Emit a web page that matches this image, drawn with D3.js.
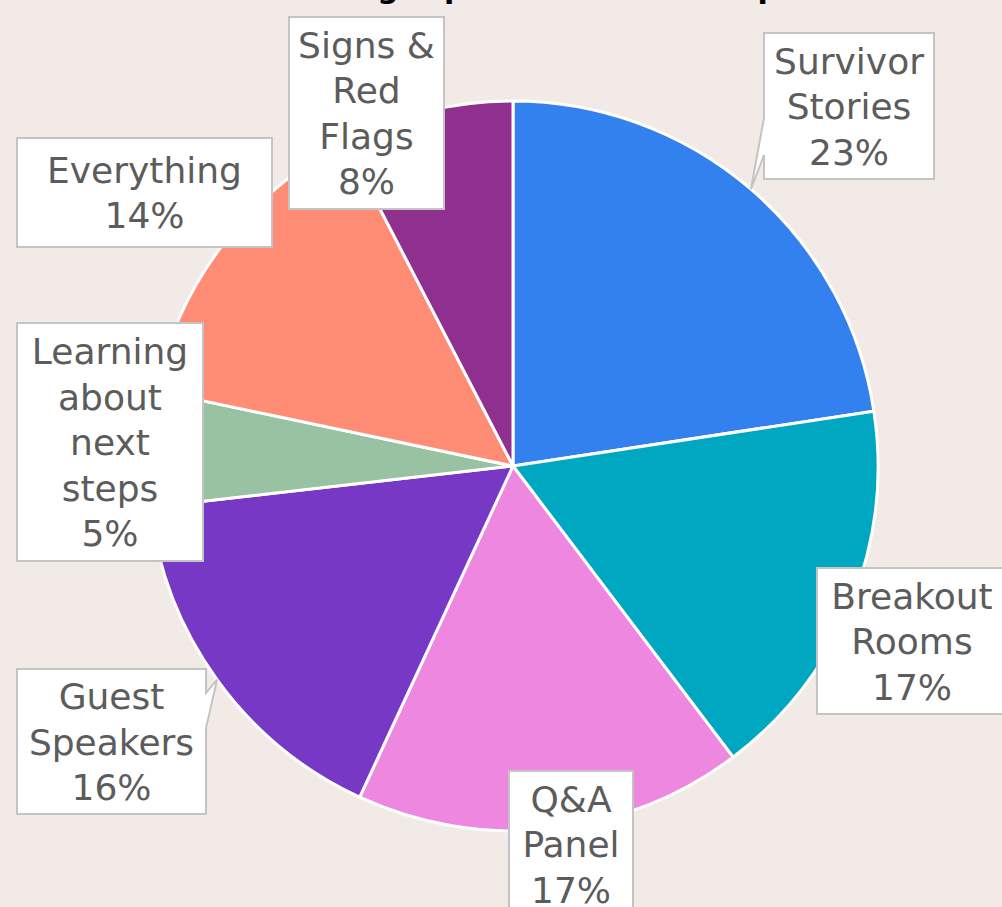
<!DOCTYPE html>
<html>
<head>
<meta charset="utf-8">
<script src="https://cdn.jsdelivr.net/npm/d3@7"></script>
<style>
  html, body { margin: 0; padding: 0; background: #F2EAE7; overflow: hidden; }
  svg { display: block; }
</style>
</head>
<body>
<svg id="chart" width="1002" height="907"></svg>
<script>
// ---- data ----
const titleText = "Most interesting topic of the workshop";
const categories = ["Survivor Stories", "Breakout Rooms", "Q&A Panel", "Guest Speakers",
                    "Learning about next steps", "Everything", "Signs & Red Flags"];
const values = [22.6, 17.1, 17.2, 16.3, 5.1, 14.1, 7.6];
const labelLines = [["Survivor", "Stories"], ["Breakout", "Rooms"], ["Q&A", "Panel"],
                    ["Guest", "Speakers"], ["Learning", "about", "next", "steps"],
                    ["Everything"], ["Signs &", "Red", "Flags"]];
const colors = ["#3381EE", "#00A7C1", "#EE87E0", "#7638C5", "#98C2A2", "#FF8C75", "#8F2F8E"];

// ---- layout (label boxes) ----
const boxLayout = {
  "Survivor Stories": {x: 764, y: 33, w: 170, h: 146, pointer: {side: "left", b1: 118, b2: 155}},
  "Breakout Rooms": {x: 817, y: 568, w: 190, h: 146, textX: 912},
  "Q&A Panel": {x: 509, y: 771, w: 124, h: 146},
  "Guest Speakers": {x: 17, y: 669, w: 189, h: 145, pointer: {side: "right", b1: 693, b2: 728}},
  "Learning about next steps": {x: 17, y: 323, w: 186, h: 238},
  "Everything": {x: 17, y: 138, w: 255, h: 109},
  "Signs & Red Flags": {x: 289, y: 17, w: 155, h: 192}
};

const W = 1002, H = 907;
const cx = 513, cy = 466, R = 365;
const fontSize = 36, lineH = 45.5;

const svg = d3.select("#chart");
svg.append("rect").attr("width", W).attr("height", H).attr("fill", "#F2EAE7");

// title (mostly above the visible area)
const title = svg.append("text")
  .attr("y", -2)
  .attr("font-family", "DejaVu Sans")
  .attr("font-weight", "bold")
  .attr("font-size", 30)
  .attr("fill", "#000")
  .text(titleText);
{
  const node = title.node();
  const gi = titleText.indexOf("interesting") + "interestin".length;
  const before = node.getSubStringLength(0, gi);
  const gw = node.getSubStringLength(gi, 1);
  title.attr("x", 388 - before - gw / 2);
}

const total = d3.sum(values);
const data = categories.map((c, i) => ({cat: c, value: values[i], lines: labelLines[i], color: colors[i]}));

const pie = d3.pie().value(d => d.value).sort(null).startAngle(0).endAngle(2 * Math.PI);
const arcs = pie(data);
const arc = d3.arc().innerRadius(0).outerRadius(R);
const edgeArc = d3.arc().innerRadius(R).outerRadius(R);

const g = svg.append("g").attr("transform", `translate(${cx},${cy})`);
g.selectAll("path.slice").data(arcs).join("path")
  .attr("class", "slice")
  .attr("d", arc)
  .attr("fill", d => d.data.color)
  .attr("stroke", "#fff")
  .attr("stroke-width", 3)
  .attr("stroke-linejoin", "round");

// labels
const labels = svg.append("g");
arcs.forEach(a => {
  const d = a.data;
  const b = boxLayout[d.cat];
  const [tx0, ty0] = edgeArc.centroid(a);
  const tip = [cx + tx0, cy + ty0];
  let p;
  if (b.pointer && b.pointer.side === "left") {
    p = `M${b.x},${b.y}H${b.x + b.w}V${b.y + b.h}H${b.x}V${b.pointer.b2}L${tip[0]},${tip[1]}L${b.x},${b.pointer.b1}Z`;
  } else if (b.pointer && b.pointer.side === "right") {
    p = `M${b.x},${b.y}H${b.x + b.w}V${b.pointer.b1}L${tip[0]},${tip[1]}L${b.x + b.w},${b.pointer.b2}V${b.y + b.h}H${b.x}Z`;
  } else {
    p = `M${b.x},${b.y}H${b.x + b.w}V${b.y + b.h}H${b.x}Z`;
  }
  labels.append("path").attr("d", p)
    .attr("fill", "#fff").attr("stroke", "#C4C4C4").attr("stroke-width", 2)
    .attr("stroke-linejoin", "miter");

  const lines = d.lines.concat([Math.round(d.value / total * 100) + "%"]);
  const n = lines.length;
  const mx = b.textX !== undefined ? b.textX : b.x + b.w / 2;
  const my = b.y + b.h / 2;
  const t = labels.append("text")
    .attr("font-family", "DejaVu Sans")
    .attr("font-size", fontSize)
    .attr("fill", "#5C5C5C")
    .attr("text-anchor", "middle");
  lines.forEach((ln, i) => {
    t.append("tspan")
      .attr("x", mx)
      .attr("y", my + (i - (n - 1) / 2) * lineH + 13)
      .text(ln);
  });
});
</script>
</body>
</html>
